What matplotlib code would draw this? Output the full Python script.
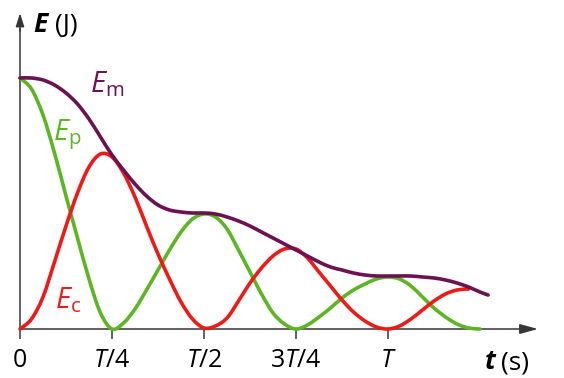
import matplotlib
matplotlib.use("Agg")
import matplotlib.pyplot as plt
import numpy as np
from matplotlib.path import Path
from matplotlib.patches import PathPatch

# ---------------- data (arbitrary energy units) ----------------
# time in units of the period T
t_em = [0/32, 1/32, 2/32, 3/32, 4/32, 5/32, 6/32, 7/32, 8/32, 9/32, 10/32, 11/32, 12/32,
        13/32, 14/32, 15/32, 16/32, 17/32, 18/32, 19/32, 20/32, 21/32, 22/32, 23/32, 24/32,
        25/32, 26/32, 27/32, 28/32, 29/32, 30/32, 31/32, 32/32, 33/32, 34/32, 35/32, 36/32,
        37/32, 38/32, 39/32, 40/32, 1.272]
em = [251, 251, 249, 244, 236, 225, 210, 192, 174, 159, 145, 133, 124,
      119, 117, 116, 116, 115, 112, 108, 103, 97, 91, 85, 79,
      73, 67, 62, 59, 56, 54, 53, 53, 53, 53, 52, 51,
      49, 46, 42, 37, 34]

t_ep = [0/32, 1/32, 2/32, 3/32, 4/32, 5/32, 6/32, 7/32, 8/32, 9/32, 10/32, 11/32, 12/32,
        13/32, 14/32, 15/32, 16/32, 17/32, 18/32, 19/32, 20/32, 21/32, 22/32, 23/32, 24/32,
        25/32, 26/32, 27/32, 28/32, 29/32, 30/32, 31/32, 32/32, 33/32, 34/32, 35/32, 36/32,
        37/32, 38/32, 39/32, 40/32]
ep = [251, 240, 214, 176, 133, 91, 50, 16, 0, 6, 20, 39, 59,
      79, 97, 110, 115, 112, 100, 79, 57, 35, 16, 5, 0,
      4, 12, 21, 31, 39, 45, 50, 52, 50, 43, 32, 21,
      12, 5, 1, 0]

t_ec = [0/32, 1/32, 2/32, 3/32, 4/32, 5/32, 6/32, 7/32, 8/32, 9/32, 10/32, 11/32, 12/32,
        13/32, 14/32, 15/32, 16/32, 17/32, 18/32, 19/32, 20/32, 21/32, 22/32, 23/32, 24/32,
        25/32, 26/32, 27/32, 28/32, 29/32, 30/32, 31/32, 32/32, 33/32, 34/32, 35/32, 36/32,
        37/32, 38/32, 39/32]
ec = [0, 10, 32, 67, 103, 136, 162, 175, 172, 156, 132, 103, 75,
      50, 27, 10, 1, 3, 11, 28, 46, 61, 73, 80, 80,
      71, 57, 43, 29, 17, 8, 2, 0, 3, 10, 19, 28,
      35, 39, 40]

tick_pos = [0, 0.25, 0.5, 0.75, 1.0]
tick_labels = ["0", r"$T$/4", r"$T$/2", r"3$T$/4", r"$T$"]

# ---------------- fonts ----------------
base = "Open Sans"
plt.rcParams["font.family"] = [base, "DejaVu Sans"]
plt.rcParams["mathtext.fontset"] = "custom"
plt.rcParams["mathtext.rm"] = base
plt.rcParams["mathtext.it"] = base + ":italic"
plt.rcParams["mathtext.bf"] = base + ":bold"

C_EM = "#6b1252"
C_EP = "#5cb623"
C_EC = "#ef1a17"
C_AX = "#363636"

fig = plt.figure(figsize=(5.64, 3.78), dpi=100)
ax = fig.add_axes([0, 0, 1, 1])
# pixel mapping: x_px = 20 + 368 t ; y_px = 329 - E
ax.set_xlim(-20 / 368, 544 / 368)
ax.set_ylim(-49, 329)


def smooth_line(ax, x, y, **kw):
    """Draw a smooth (Catmull-Rom / cubic Bezier) line through the data points."""
    p = np.column_stack([x, y]).astype(float)
    n = len(p)
    verts = [p[0]]
    codes = [Path.MOVETO]
    for i in range(n - 1):
        p0 = p[i - 1] if i > 0 else p[i]
        p1 = p[i]
        p2 = p[i + 1]
        p3 = p[i + 2] if i + 2 < n else p[i + 1]
        c1 = p1 + (p2 - p0) / 6.0
        c2 = p2 - (p3 - p1) / 6.0
        verts += [c1, c2, p2]
        codes += [Path.CURVE4] * 3
    patch = PathPatch(Path(verts, codes), fill=False, transform=ax.transData,
                      capstyle="round", joinstyle="round", **kw)
    ax.add_patch(patch)
    return patch


smooth_line(ax, t_ep, ep, edgecolor=C_EP, lw=2.6, zorder=3)
smooth_line(ax, t_ec, ec, edgecolor=C_EC, lw=2.6, zorder=4)
smooth_line(ax, t_em, em, edgecolor=C_EM, lw=2.6, zorder=5)

for s in ["top", "right"]:
    ax.spines[s].set_visible(False)
ax.spines["bottom"].set_position(("data", 0))
ax.spines["left"].set_position(("data", 0))
ax.spines["bottom"].set_bounds(0, 505 / 368)
ax.spines["left"].set_bounds(0, 300)
for s in ["bottom", "left"]:
    ax.spines[s].set_color(C_AX)
    ax.spines[s].set_linewidth(1.1)
    ax.spines[s].set_zorder(2)

ax.set_yticks([])
ax.set_xticks(tick_pos)
ax.set_xticklabels(tick_labels)
ax.tick_params(axis="x", direction="out", length=7, width=1.1, color=C_AX,
               labelsize=18, pad=7, labelcolor="black")

# arrow heads
ax.annotate("", xy=(518 / 368, 0), xytext=(500 / 368, 0),
            arrowprops=dict(arrowstyle="-|>,head_length=1.1,head_width=0.3",
                            color=C_AX, lw=1.1, shrinkA=0, shrinkB=0))
ax.annotate("", xy=(0, 316), xytext=(0, 298),
            arrowprops=dict(arrowstyle="-|>,head_length=0.8,head_width=0.25",
                            color=C_AX, lw=1.1, shrinkA=0, shrinkB=0))

# axis titles
ax.text(13 / 368, 297, "E", fontsize=19, fontweight="bold", fontstyle="italic",
        ha="left", va="baseline", color="black")
ax.text(35 / 368, 297, "(J)", fontsize=19, ha="left", va="baseline", color="black")
ax.text(465 / 368, -40, "t", fontsize=19, fontweight="bold", fontstyle="italic",
        ha="left", va="baseline", color="black")
ax.text(481 / 368, -40, "(s)", fontsize=19, ha="left", va="baseline", color="black")

# curve labels
ax.text(70 / 368, 237, r"$E_{\mathrm{m}}$", fontsize=21, color=C_EM, ha="left", va="baseline")
ax.text(33 / 368, 189, r"$E_{\mathrm{p}}$", fontsize=21, color=C_EP, ha="left", va="baseline")
ax.text(35 / 368, 21, r"$E_{\mathrm{c}}$", fontsize=21, color=C_EC, ha="left", va="baseline")

fig.savefig("out.png", dpi=100, facecolor="white")
